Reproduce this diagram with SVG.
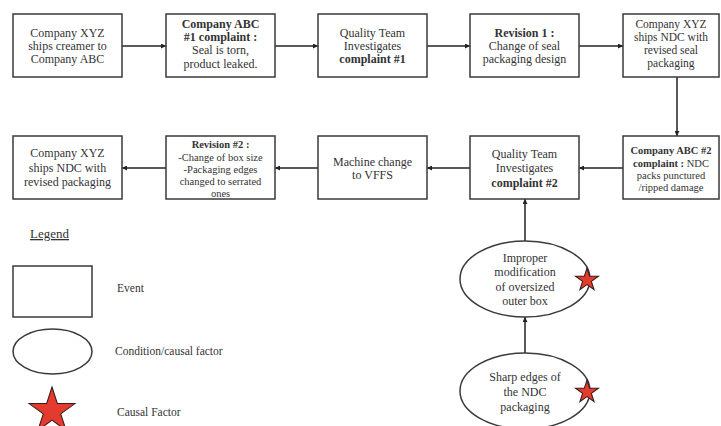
<svg xmlns="http://www.w3.org/2000/svg" width="721" height="426" viewBox="0 0 721 426">
<style>
.box{fill:#fff;stroke:#3a3a3a;stroke-width:1.5}
.ell{fill:#fff;stroke:#3a3a3a;stroke-width:1.5}
.t{font-family:"Liberation Serif",serif;font-size:12px;fill:#333;text-anchor:middle}
.s{font-size:10.5px}
.m{font-size:11.5px}
.b{font-weight:bold}
.lg{font-family:"Liberation Serif",serif;font-size:11.5px;fill:#333}
.con{stroke:#222;stroke-width:1.5;fill:none;marker-end:url(#ah)}
.star{fill:#e33b2e;stroke:#3a1a1a}
</style>
<defs>
<marker id="ah" viewBox="0 0 8 8" refX="8" refY="4" markerWidth="5" markerHeight="5" orient="auto" markerUnits="userSpaceOnUse">
<path d="M0,0 L8,4 L0,8 z" fill="#222"/>
</marker>
<path id="starp" d="M0,-1 L0.2245,-0.309 L0.951,-0.309 L0.3633,0.118 L0.588,0.809 L0,0.382 L-0.588,0.809 L-0.3633,0.118 L-0.951,-0.309 L-0.2245,-0.309 Z"/>
</defs>
<rect width="721" height="426" fill="#fff"/>
<g id="connectors">
<line class="con" x1="122" y1="46" x2="166" y2="46"/>
<line class="con" x1="275" y1="46" x2="318" y2="46"/>
<line class="con" x1="427" y1="46" x2="470" y2="46"/>
<line class="con" x1="579" y1="46" x2="623" y2="46"/>
<line class="con" x1="677" y1="77" x2="677" y2="136"/>
<line class="con" x1="623" y1="168" x2="579" y2="168"/>
<line class="con" x1="470" y1="168" x2="427" y2="168"/>
<line class="con" x1="318" y1="168" x2="275" y2="168"/>
<line class="con" x1="166" y1="168" x2="122" y2="168"/>
<line class="con" x1="525" y1="241" x2="525" y2="199"/>
<line class="con" x1="525" y1="353" x2="525" y2="317"/>
</g>
<g id="n1"><rect class="box" x="13" y="14" width="109" height="63"/>
<text class="t" x="67.5" y="37">Company XYZ</text><text class="t" x="67.5" y="50">ships creamer to</text><text class="t" x="67.5" y="63">Company ABC</text></g>
<g id="n2"><rect class="box" x="166" y="14" width="109" height="63"/>
<text class="t b" x="220.5" y="28">Company ABC</text><text class="t b" x="220.5" y="41">#1 complaint :</text><text class="t" x="220.5" y="54">Seal is torn,</text><text class="t" x="220.5" y="68">product leaked.</text></g>
<g id="n3"><rect class="box" x="318" y="14" width="109" height="63"/>
<text class="t" x="372.5" y="37">Quality Team</text><text class="t" x="372.5" y="50">Investigates</text><text class="t b" x="372.5" y="63">complaint #1</text></g>
<g id="n4"><rect class="box" x="470" y="14" width="109" height="63"/>
<text class="t b" x="524.5" y="37">Revision 1 :</text><text class="t" x="524.5" y="50">Change of seal</text><text class="t" x="524.5" y="63">packaging design</text></g>
<g id="n5"><rect class="box" x="623" y="14" width="96" height="63"/>
<text class="t m" x="671" y="28">Company XYZ</text><text class="t m" x="671" y="41">ships NDC with</text><text class="t m" x="671" y="54">revised seal</text><text class="t m" x="671" y="67">packaging</text></g>
<g id="n6"><rect class="box" x="623" y="136" width="96" height="63"/>
<text class="t s" x="671" y="154"><tspan class="b">Company ABC #2</tspan></text><text class="t s" x="671" y="167"><tspan class="b">complaint :</tspan> NDC</text><text class="t s" x="671" y="179">packs punctured</text><text class="t s" x="671" y="191">/ripped damage</text></g>
<g id="n7"><rect class="box" x="470" y="136" width="109" height="63"/>
<text class="t" x="524.5" y="158">Quality Team</text><text class="t" x="524.5" y="172">Investigates</text><text class="t b" x="524.5" y="187">complaint #2</text></g>
<g id="n8"><rect class="box" x="318" y="136" width="109" height="63"/>
<text class="t" x="372.5" y="166">Machine change</text><text class="t" x="372.5" y="179">to VFFS</text></g>
<g id="n9"><rect class="box" x="166" y="136" width="109" height="63"/>
<text class="t s b" x="220.5" y="148">Revision #2 :</text><text class="t s" x="220.5" y="161">-Change of box size</text><text class="t s" x="220.5" y="173">-Packaging edges</text><text class="t s" x="220.5" y="185">changed to serrated</text><text class="t s" x="220.5" y="197">ones</text></g>
<g id="n10"><rect class="box" x="13" y="136" width="109" height="63"/>
<text class="t" x="67.5" y="157">Company XYZ</text><text class="t" x="67.5" y="172">ships NDC with</text><text class="t" x="67.5" y="186">revised packaging</text></g>
<g id="c1"><ellipse class="ell" cx="525" cy="279" rx="65" ry="38"/>
<text class="t" x="525" y="262">Improper</text><text class="t" x="525" y="276">modification</text><text class="t" x="525" y="291">of oversized</text><text class="t" x="525" y="305">outer box</text>
<use href="#starp" class="star" transform="translate(587,280) scale(12)" style="stroke-width:0.09"/></g>
<g id="c2"><ellipse class="ell" cx="525" cy="391" rx="65" ry="38"/>
<text class="t" x="525" y="381">Sharp edges of</text><text class="t" x="525" y="396">the NDC</text><text class="t" x="525" y="411">packaging</text>
<use href="#starp" class="star" transform="translate(587,392) scale(12)" style="stroke-width:0.09"/></g>
<g id="legend">
<text x="30" y="238" font-family="Liberation Serif, serif" font-size="13" fill="#333" text-decoration="underline">Legend</text>
<rect class="box" x="13" y="266" width="79" height="51"/>
<text class="lg" x="117" y="292">Event</text>
<ellipse class="ell" cx="52.5" cy="351.5" rx="39.5" ry="22.5"/>
<text class="lg" x="115" y="355">Condition/causal factor</text>
<use href="#starp" class="star" transform="translate(52,411) scale(24)" style="stroke-width:0.045"/>
<text class="lg" x="117" y="416">Causal Factor</text>
</g>
</svg>
